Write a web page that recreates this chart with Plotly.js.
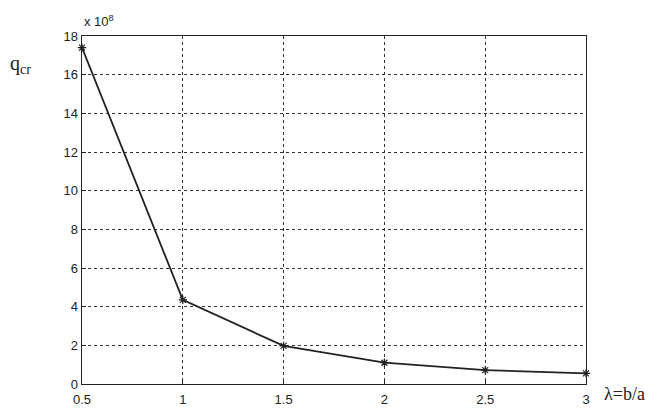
<!DOCTYPE html>
<html>
<head>
<meta charset="utf-8">
<script src="https://cdn.plot.ly/plotly-3.0.1.min.js"></script>
<style>html,body{margin:0;padding:0;background:#fff;}#chart{width:662px;height:410px;}</style>
</head>
<body>
<div id="chart"></div>
<script>
const lambdaVals = [0.5, 1, 1.5, 2, 2.5, 3];
const qcrVals = [17.4, 4.35, 1.97, 1.1, 0.72, 0.55];
const xTicks = [0.5, 1, 1.5, 2, 2.5, 3];
const xTickText = ['0.5', '1', '1.5', '2', '2.5', '3'];
const yTicks = [0, 2, 4, 6, 8, 10, 12, 14, 16, 18];

const trace = {
  x: lambdaVals, y: qcrVals, type: 'scatter', mode: 'lines+markers',
  line: {color: '#222', width: 1.8},
  marker: {symbol: 'asterisk-open', size: 7, color: '#222', line: {color: '#222', width: 1.2}},
  cliponaxis: false, hoverinfo: 'none'
};
const layout = {
  width: 662, height: 410,
  margin: {l: 82, r: 76, t: 36, b: 26},
  paper_bgcolor: '#fff', plot_bgcolor: '#fff',
  showlegend: false,
  font: {family: 'Liberation Sans, Arial, sans-serif', size: 13, color: '#222'},
  xaxis: {
    range: [0.5, 3], tickvals: xTicks, ticktext: xTickText,
    showgrid: true, gridcolor: '#333', griddash: '3px,3px', gridwidth: 1,
    zeroline: false, showline: true, linecolor: '#222', linewidth: 1.4, mirror: true,
    ticks: 'inside', ticklen: 4, tickcolor: '#222', ticklabelstandoff: 3,
    tickfont: {size: 13, family: 'Liberation Sans, Arial, sans-serif'}
  },
  yaxis: {
    range: [0, 18], tickvals: yTicks,
    showgrid: true, gridcolor: '#333', griddash: '3px,3px', gridwidth: 1,
    zeroline: false, showline: true, linecolor: '#222', linewidth: 1.4, mirror: true,
    ticks: 'inside', ticklen: 4, tickcolor: '#222',
    tickfont: {size: 13, family: 'Liberation Sans, Arial, sans-serif'}
  },
  annotations: [
    {xref: 'paper', yref: 'paper', x: 0, y: 1, xanchor: 'left', yanchor: 'bottom', yshift: 5,
     text: 'x 10<sup>8</sup>', showarrow: false, font: {size: 13, family: 'Liberation Sans, Arial, sans-serif', color: '#222'}},
    {xref: 'paper', yref: 'paper', x: 0, y: 1, xanchor: 'left', yanchor: 'top', xshift: -74, yshift: -14,
     text: 'q<sub>cr</sub>', showarrow: false, font: {size: 20, family: 'Liberation Serif, Times New Roman, serif', color: '#222'}},
    {xref: 'paper', yref: 'paper', x: 1, y: 0, xanchor: 'left', yanchor: 'top', xshift: 16, yshift: 2,
     text: 'λ=b/a', showarrow: false, font: {size: 18, family: 'Liberation Serif, Times New Roman, serif', color: '#222'}}
  ]
};
Plotly.newPlot('chart', [trace], layout, {displayModeBar: false, staticPlot: true});
</script>
</body>
</html>
